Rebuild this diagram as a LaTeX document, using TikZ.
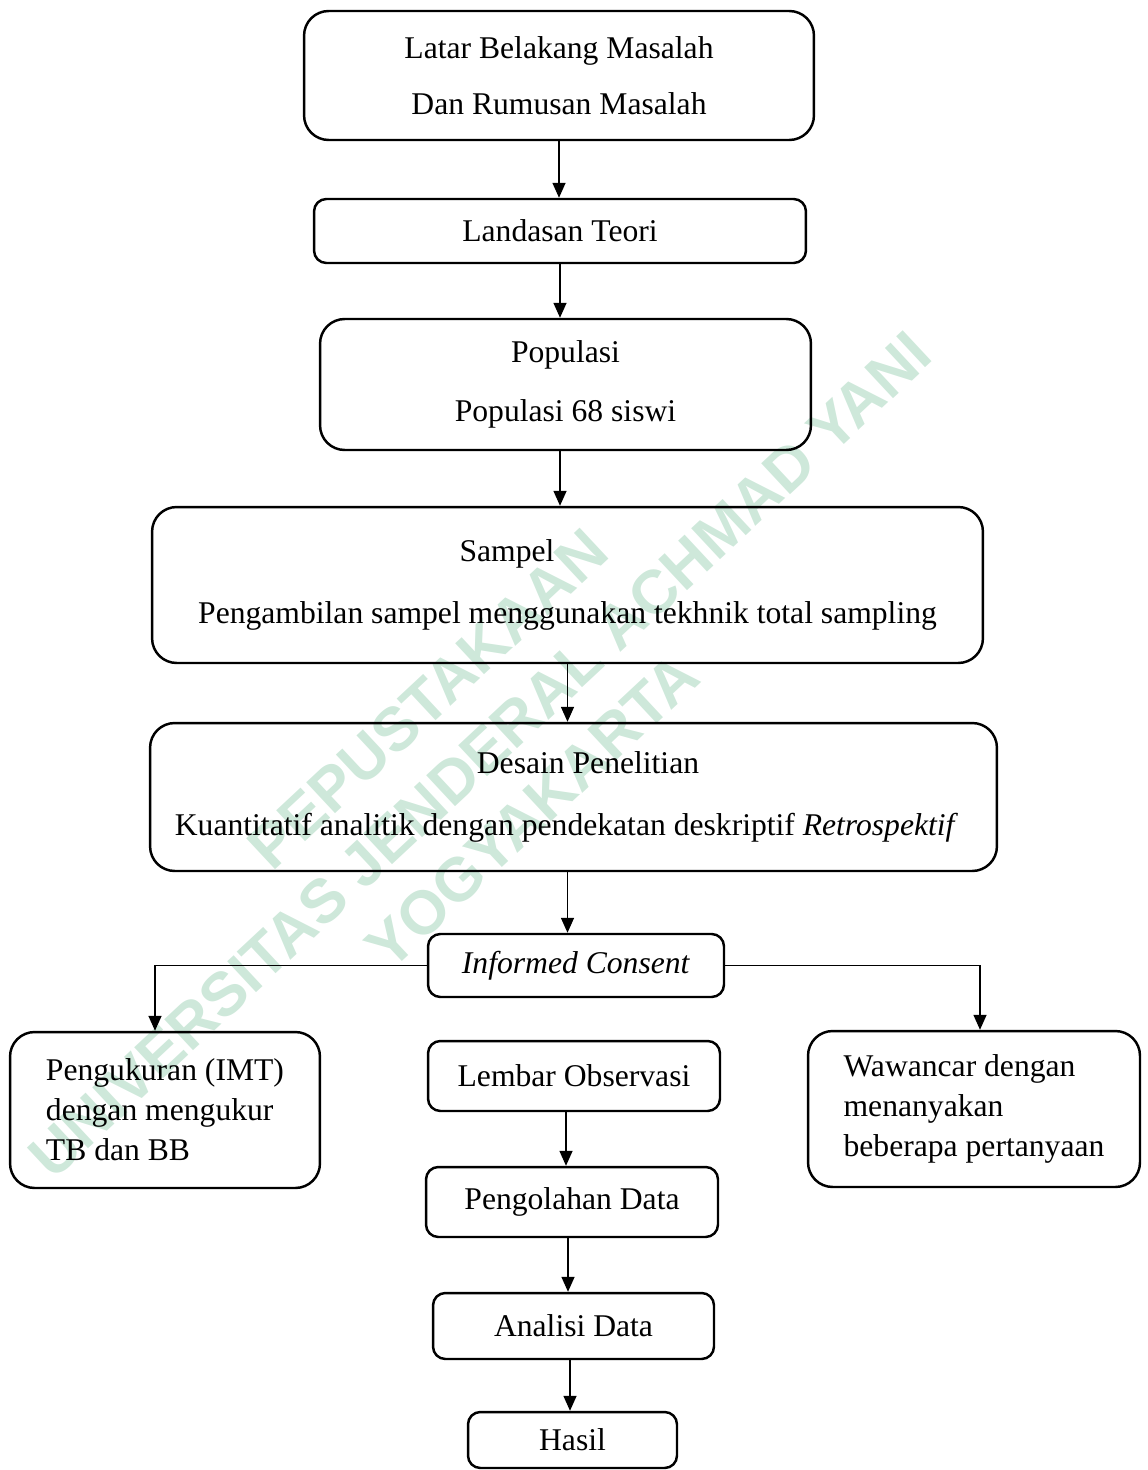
\documentclass[tikz,border=0pt]{standalone}
\usepackage{fontspec}
\setmainfont{Liberation Serif}
\newfontfamily\wmfont{Liberation Sans}
\usetikzlibrary{arrows.meta}
\definecolor{wmgreen}{RGB}{206,232,218}

\begin{document}
\begin{tikzpicture}[x=0.02cm,y=-0.02cm]

\tikzstyle{every node}+=[inner sep=0pt, font=\fontsize{18}{22.7}\selectfont]
\tikzstyle{bigbox}=[draw=black, line width=1.4pt, rounded corners=14pt, align=center]
\tikzstyle{smallbox}=[draw=black, line width=1.4pt, rounded corners=7pt, align=center]
\tikzstyle{arrow}=[black, line width=0.75pt, -{Triangle[length=8.5pt,width=7.4pt]}]
\useasboundingbox (0,0) rectangle (1148,1470);

\node [rotate=43, text=wmgreen, align=center, font=\wmfont\bfseries\fontsize{35}{43.6}\selectfont] (wm) at (480,755) {PEPUSTAKAAN\\UNIVERSITAS JENDERAL ACHMAD YANI\\YOGYAKARTA};

\node [bigbox, minimum width=10.2cm, minimum height=2.58cm] (latar) at (559,75.5) {Latar Belakang Masalah\\[9pt]Dan Rumusan Masalah};
\node [smallbox, minimum width=9.84cm, minimum height=1.28cm] (teori) at (560,231) {Landasan Teori};
\node [bigbox, minimum width=9.82cm, minimum height=2.62cm] (pop) at (565.5,384.5) {Populasi\\[11.3pt]Populasi 68 siswi};
\node [bigbox, minimum width=16.62cm, minimum height=3.12cm] (sampel) at (567.5,585) {\hspace*{-2.42cm}Sampel\\[12.4pt]Pengambilan sampel menggunakan tekhnik total sampling};
\node [bigbox, minimum width=16.94cm, minimum height=2.96cm] (desain) at (573.5,797) {\hspace*{0.58cm}Desain Penelitian\\[13pt]\hspace*{-0.28cm}Kuantitatif analitik dengan pendekatan deskriptif \textit{Retrospektif}};
\node [smallbox, minimum width=5.92cm, minimum height=1.26cm] (consent) at (576,965.5) {\textit{Informed Consent}};
\node [bigbox, align=left, minimum width=6.2cm, minimum height=3.12cm] (imt) at (165,1110) {Pengukuran (IMT)\\dengan mengukur\\TB dan BB};
\node [smallbox, minimum width=5.84cm, minimum height=1.4cm] (lembar) at (574,1076) {Lembar Observasi};
\node [bigbox, align=left, minimum width=6.64cm, minimum height=3.12cm] (wawan) at (974,1109) {Wawancar dengan\\menanyakan\\beberapa pertanyaan};
\node [smallbox, minimum width=5.84cm, minimum height=1.4cm] (olah) at (572,1202) {Pengolahan Data};
\node [smallbox, minimum width=5.62cm, minimum height=1.32cm] (analisi) at (573.5,1326) {Analisi Data};
\node [smallbox, minimum width=4.18cm, minimum height=1.12cm] (hasil) at (572.5,1440) {Hasil};

\draw [arrow] (latar.south) -- (latar.south |- teori.north);
\draw [arrow] (teori.south) -- (teori.south |- pop.north);
\draw [arrow] (teori.south |- pop.south) -- (teori.south |- sampel.north);
\draw [arrow] (sampel.south) -- (sampel.south |- desain.north);
\draw [arrow] (sampel.south |- desain.south) -- (sampel.south |- consent.north);
\draw [arrow] (consent.west) -| ([xshift=-0.2cm]imt.north);
\draw [arrow] (consent.east) -| ([xshift=0.12cm]wawan.north);
\draw [arrow] ([xshift=-0.16cm]lembar.south) -- ([xshift=-0.16cm]lembar.south |- olah.north);
\draw [arrow] ([xshift=-0.08cm]olah.south) -- ([xshift=-0.08cm]olah.south |- analisi.north);
\draw [arrow] ([xshift=-0.07cm]analisi.south) -- ([xshift=-0.07cm]analisi.south |- hasil.north);

\end{tikzpicture}
\end{document}
